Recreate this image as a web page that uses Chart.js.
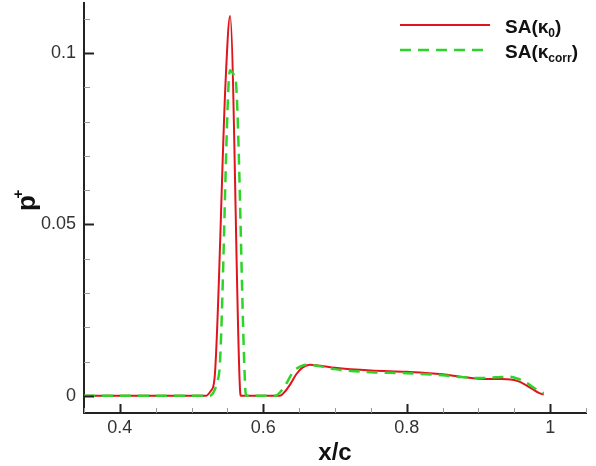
<!DOCTYPE html>
<html>
<head>
<meta charset="utf-8">
<script src="https://cdn.jsdelivr.net/npm/chart.js@4/dist/chart.umd.min.js"></script>
<style>
  body { margin: 0; background: #fff; }
  canvas { display: block; }
</style>
</head>
<body>
<canvas id="pChart" width="596" height="466"></canvas>
<script>
// SA(kappa_0) - red solid
const xRed = [0.35, 0.52, 0.527, 0.532, 0.5475, 0.5537, 0.5675, 0.569, 0.623, 0.630, 0.638, 0.646, 0.655, 0.665, 0.680, 0.70, 0.75, 0.80, 0.85, 0.875, 0.90, 0.93, 0.945, 0.955, 0.965, 0.975, 0.985, 0.991];
const yRed = [0, 0, 0.0015, 0.005, 0.092, 0.1108, 0.002, 0, 0, 0.0012, 0.0035, 0.0063, 0.0083, 0.0091, 0.0088, 0.0082, 0.0074, 0.0070, 0.0063, 0.0056, 0.0050, 0.0049, 0.0048, 0.0043, 0.0033, 0.0020, 0.0008, 0.0004];

// SA(kappa_corr) - green dashed
const xGreen = [0.35, 0.525, 0.531, 0.535, 0.5398, 0.5514, 0.5537, 0.5593, 0.5616, 0.5747, 0.576, 0.617, 0.624, 0.6305, 0.642, 0.652, 0.6607, 0.68, 0.70, 0.75, 0.80, 0.85, 0.875, 0.90, 0.925, 0.944, 0.955, 0.968, 0.98, 0.991];
const yGreen = [0, 0, 0.0012, 0.0037, 0.0105, 0.0902, 0.095, 0.0936, 0.0921, 0.0027, 0, 0, 0.0012, 0.0030, 0.0071, 0.0086, 0.0091, 0.0086, 0.0078, 0.0069, 0.0066, 0.0060, 0.0055, 0.0052, 0.0054, 0.0056, 0.0050, 0.0037, 0.0020, 0.0008];

const xTicks = [0.4, 0.6, 0.8, 1];
const yTicks = [0, 0.05, 0.1];
const legendNames = ['SA(κ', 'SA(κ'];
const legendSubs = ['0', 'corr'];

const RED = '#e0141c';
const GREEN = '#2fd42a';

function toPoints(xs, ys) {
  return xs.map((x, i) => ({x: x, y: ys[i]}));
}

// inward ticks, major + minor
const innerTicks = {
  id: 'innerTicks',
  afterDraw(chart) {
    const ctx = chart.ctx;
    const xs = chart.scales.x, ys = chart.scales.y;
    const a = chart.chartArea;
    ctx.save();
    for (let i = 0; i <= 14; i++) {
      const v = +(0.35 + i * 0.05).toFixed(2);
      const major = xTicks.includes(v);
      const px = Math.round(xs.getPixelForValue(v)) + 0.5;
      ctx.strokeStyle = major ? '#222' : '#999';
      ctx.lineWidth = major ? 2 : 1;
      ctx.beginPath();
      ctx.moveTo(px, a.bottom);
      ctx.lineTo(px, a.bottom - (major ? 9 : 5));
      ctx.stroke();
    }
    for (let i = 0; i <= 11; i++) {
      const v = +(i * 0.01).toFixed(2);
      const major = yTicks.includes(v);
      const py = Math.round(ys.getPixelForValue(v)) + 0.5;
      ctx.strokeStyle = major ? '#222' : '#999';
      ctx.lineWidth = major ? 2 : 1;
      ctx.beginPath();
      ctx.moveTo(a.left, py);
      ctx.lineTo(a.left + (major ? 10 : 6), py);
      ctx.stroke();
    }
    ctx.restore();
  }
};

// axis titles and legend with sub/superscripts
const annotations = {
  id: 'annotations',
  afterDraw(chart) {
    const ctx = chart.ctx;
    ctx.save();
    ctx.fillStyle = '#111';

    // x title
    ctx.font = 'bold 24px "Liberation Sans", Arial, sans-serif';
    ctx.textAlign = 'center';
    ctx.textBaseline = 'alphabetic';
    ctx.fillText('x/c', 335, 460);

    // y title p+
    ctx.save();
    ctx.translate(35, 211);
    ctx.rotate(-Math.PI / 2);
    ctx.textAlign = 'left';
    ctx.font = 'bold 26px "Liberation Sans", Arial, sans-serif';
    ctx.fillText('p', 0, 0);
    ctx.font = 'bold 15px "Liberation Sans", Arial, sans-serif';
    ctx.textAlign = 'center';
    ctx.textBaseline = 'middle';
    ctx.fillText('+', 17, -16);
    ctx.restore();

    // legend
    const rows = [
      {color: RED, dash: [], width: 2, y: 25},
      {color: GREEN, dash: [11, 7], width: 2.5, y: 50}
    ];
    rows.forEach((r, i) => {
      ctx.strokeStyle = r.color;
      ctx.lineWidth = r.width;
      ctx.setLineDash(r.dash);
      ctx.beginPath();
      ctx.moveTo(400, r.y);
      ctx.lineTo(490, r.y);
      ctx.stroke();
      ctx.setLineDash([]);

      ctx.textAlign = 'left';
      ctx.textBaseline = 'alphabetic';
      const base = r.y + 8;
      ctx.font = 'bold 19px "Liberation Sans", Arial, sans-serif';
      let x = 505;
      ctx.fillText(legendNames[i], x, base);
      x += ctx.measureText(legendNames[i]).width;
      ctx.font = 'bold 12px "Liberation Sans", Arial, sans-serif';
      ctx.fillText(legendSubs[i], x, base + 4);
      x += ctx.measureText(legendSubs[i]).width;
      ctx.font = 'bold 19px "Liberation Sans", Arial, sans-serif';
      ctx.fillText(')', x, base);
    });
    ctx.restore();
  }
};

const tickFont = {family: '"Liberation Sans", Arial, sans-serif', size: 18};

new Chart(document.getElementById('pChart').getContext('2d'), {
  type: 'scatter',
  data: {
    datasets: [
      {
        label: 'SA(κ0)',
        data: toPoints(xRed, yRed),
        showLine: true,
        borderColor: RED,
        borderWidth: 2,
        pointRadius: 0,
        cubicInterpolationMode: 'monotone',
        order: 1
      },
      {
        label: 'SA(κcorr)',
        data: toPoints(xGreen, yGreen),
        showLine: true,
        borderColor: GREEN,
        borderWidth: 2.5,
        borderDash: [11, 7],
        pointRadius: 0,
        cubicInterpolationMode: 'monotone',
        order: 0
      }
    ]
  },
  options: {
    responsive: false,
    animation: false,
    layout: { padding: {left: 0, right: 10, top: 3, bottom: 0} },
    plugins: { legend: {display: false}, tooltip: {enabled: false} },
    scales: {
      x: {
        type: 'linear',
        min: 0.35,
        max: 1.05,
        afterBuildTicks: s => { s.ticks = xTicks.map(v => ({value: v})); },
        afterFit: s => { s.height = 53; s.paddingLeft = 0; s.paddingRight = 0; },
        ticks: {
          callback: v => String(+v.toFixed(2)),
          font: tickFont,
          color: '#333',
          padding: 4,
          maxRotation: 0,
          autoSkip: false
        },
        grid: {display: true, drawOnChartArea: false, drawTicks: false},
        border: {display: true, color: '#222', width: 2}
      },
      y: {
        type: 'linear',
        min: -0.005,
        max: 0.1146,
        afterBuildTicks: s => { s.ticks = yTicks.map(v => ({value: v})); },
        afterFit: s => { s.width = 84; s.paddingTop = 0; s.paddingBottom = 0; },
        ticks: {
          callback: v => String(+v.toFixed(2)),
          font: tickFont,
          color: '#333',
          padding: 8,
          autoSkip: false
        },
        grid: {display: true, drawOnChartArea: false, drawTicks: false},
        border: {display: true, color: '#222', width: 2}
      }
    }
  },
  plugins: [innerTicks, annotations]
});
</script>
</body>
</html>
